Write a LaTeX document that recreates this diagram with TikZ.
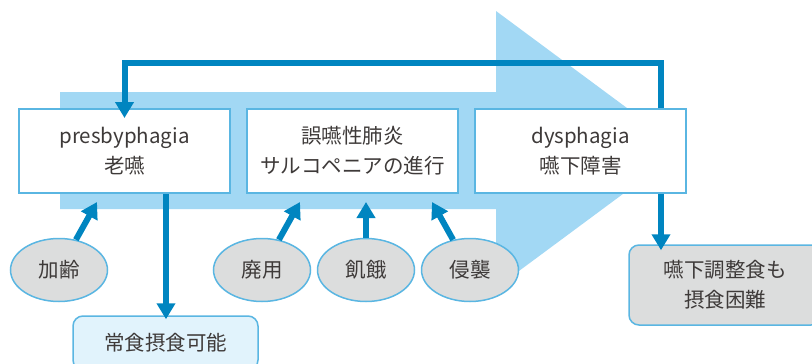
\documentclass[tikz,border=0pt]{standalone}
\usepackage{fontspec}
\setmainfont{Noto Sans CJK JP}
\usetikzlibrary{arrows.meta,shapes.geometric}
\definecolor{band}{HTML}{A2D8F4}
\definecolor{dblue}{HTML}{0085C0}
\definecolor{bord}{HTML}{5AB6E2}
\definecolor{gfill}{HTML}{DCDDDD}
\definecolor{lbfill}{HTML}{E1F3FC}
\definecolor{txt}{HTML}{3E3A39}
\tikzset{
  stagebox/.style={draw=bord, line width=1.5pt, fill=white, minimum width=211pt, minimum height=84pt, align=center, text=txt, inner sep=0pt, font=\fontsize{20.5}{30}\selectfont},
  causeell/.style={ellipse, draw=bord, line width=1.5pt, fill=gfill, minimum width=97pt, minimum height=63pt, inner sep=0pt, text=txt, font=\fontsize{20.5}{30}\selectfont},
  resbox/.style={draw=bord, line width=1.5pt, rounded corners=10pt, align=center, text=txt, inner sep=0pt, font=\fontsize{20.5}{30}\selectfont},
  flow/.style={draw=dblue, line width=6pt, -{Triangle[width=18pt,length=16pt]}}
}
\begin{document}
\begin{tikzpicture}[x=1pt,y=-1pt]
\useasboundingbox (0,0) rectangle (812,364);
% big arrow
\fill[band] (60,92) -- (496,92) -- (496,11) -- (683,149.5) -- (496,288) -- (496,209) -- (60,209) -- cycle;
% stage boxes
\node[stagebox] (b1) at (124.5,151) {presbyphagia\\老嚥};
\node[stagebox] (b2) at (352.5,151) {誤嚥性肺炎\\サルコペニアの進行};
\node[stagebox] (b3) at (580.5,151) {dysphagia\\嚥下障害};
% causes
\node[causeell] (e1) at (59,270) {加齢};
\node[causeell] (e2) at (262,270) {廃用};
\node[causeell] (e3) at (366,270) {飢餓};
\node[causeell] (e4) at (470,270) {侵襲};
% result boxes
\node[resbox, fill=lbfill, minimum width=185pt, minimum height=54pt] (r1) at (165.5,343) {常食摂食可能};
\node[resbox, fill=gfill, minimum width=192pt, minimum height=80pt] (r2) at (725,285) {嚥下調整食も\\摂食困難};
% coordinates
\coordinate (t1) at (97,202);
\coordinate (t2) at (300,202);
\coordinate (t3) at (366,202);
\coordinate (t4) at (432,202);
\coordinate (loopR) at (661,63);
\coordinate (loopL) at (124.5,63);
\coordinate (loopTip) at (124.5,118);
% connectors
\draw[flow] (e1) -- (t1);
\draw[flow] (e2) -- (t2);
\draw[flow] (e3) -- (t3);
\draw[flow] (e4) -- (t4);
\draw[flow] (b3.north -| loopR) -- (loopR) -- (loopL) -- (loopTip);
\draw[flow] (b3.south -| loopR) -- ([yshift=-6pt]r2.north -| loopR);
\draw[flow] (b1.south -| 166,0) -- ([yshift=-4pt]r1.north -| 166,0);
\end{tikzpicture}
\end{document}
